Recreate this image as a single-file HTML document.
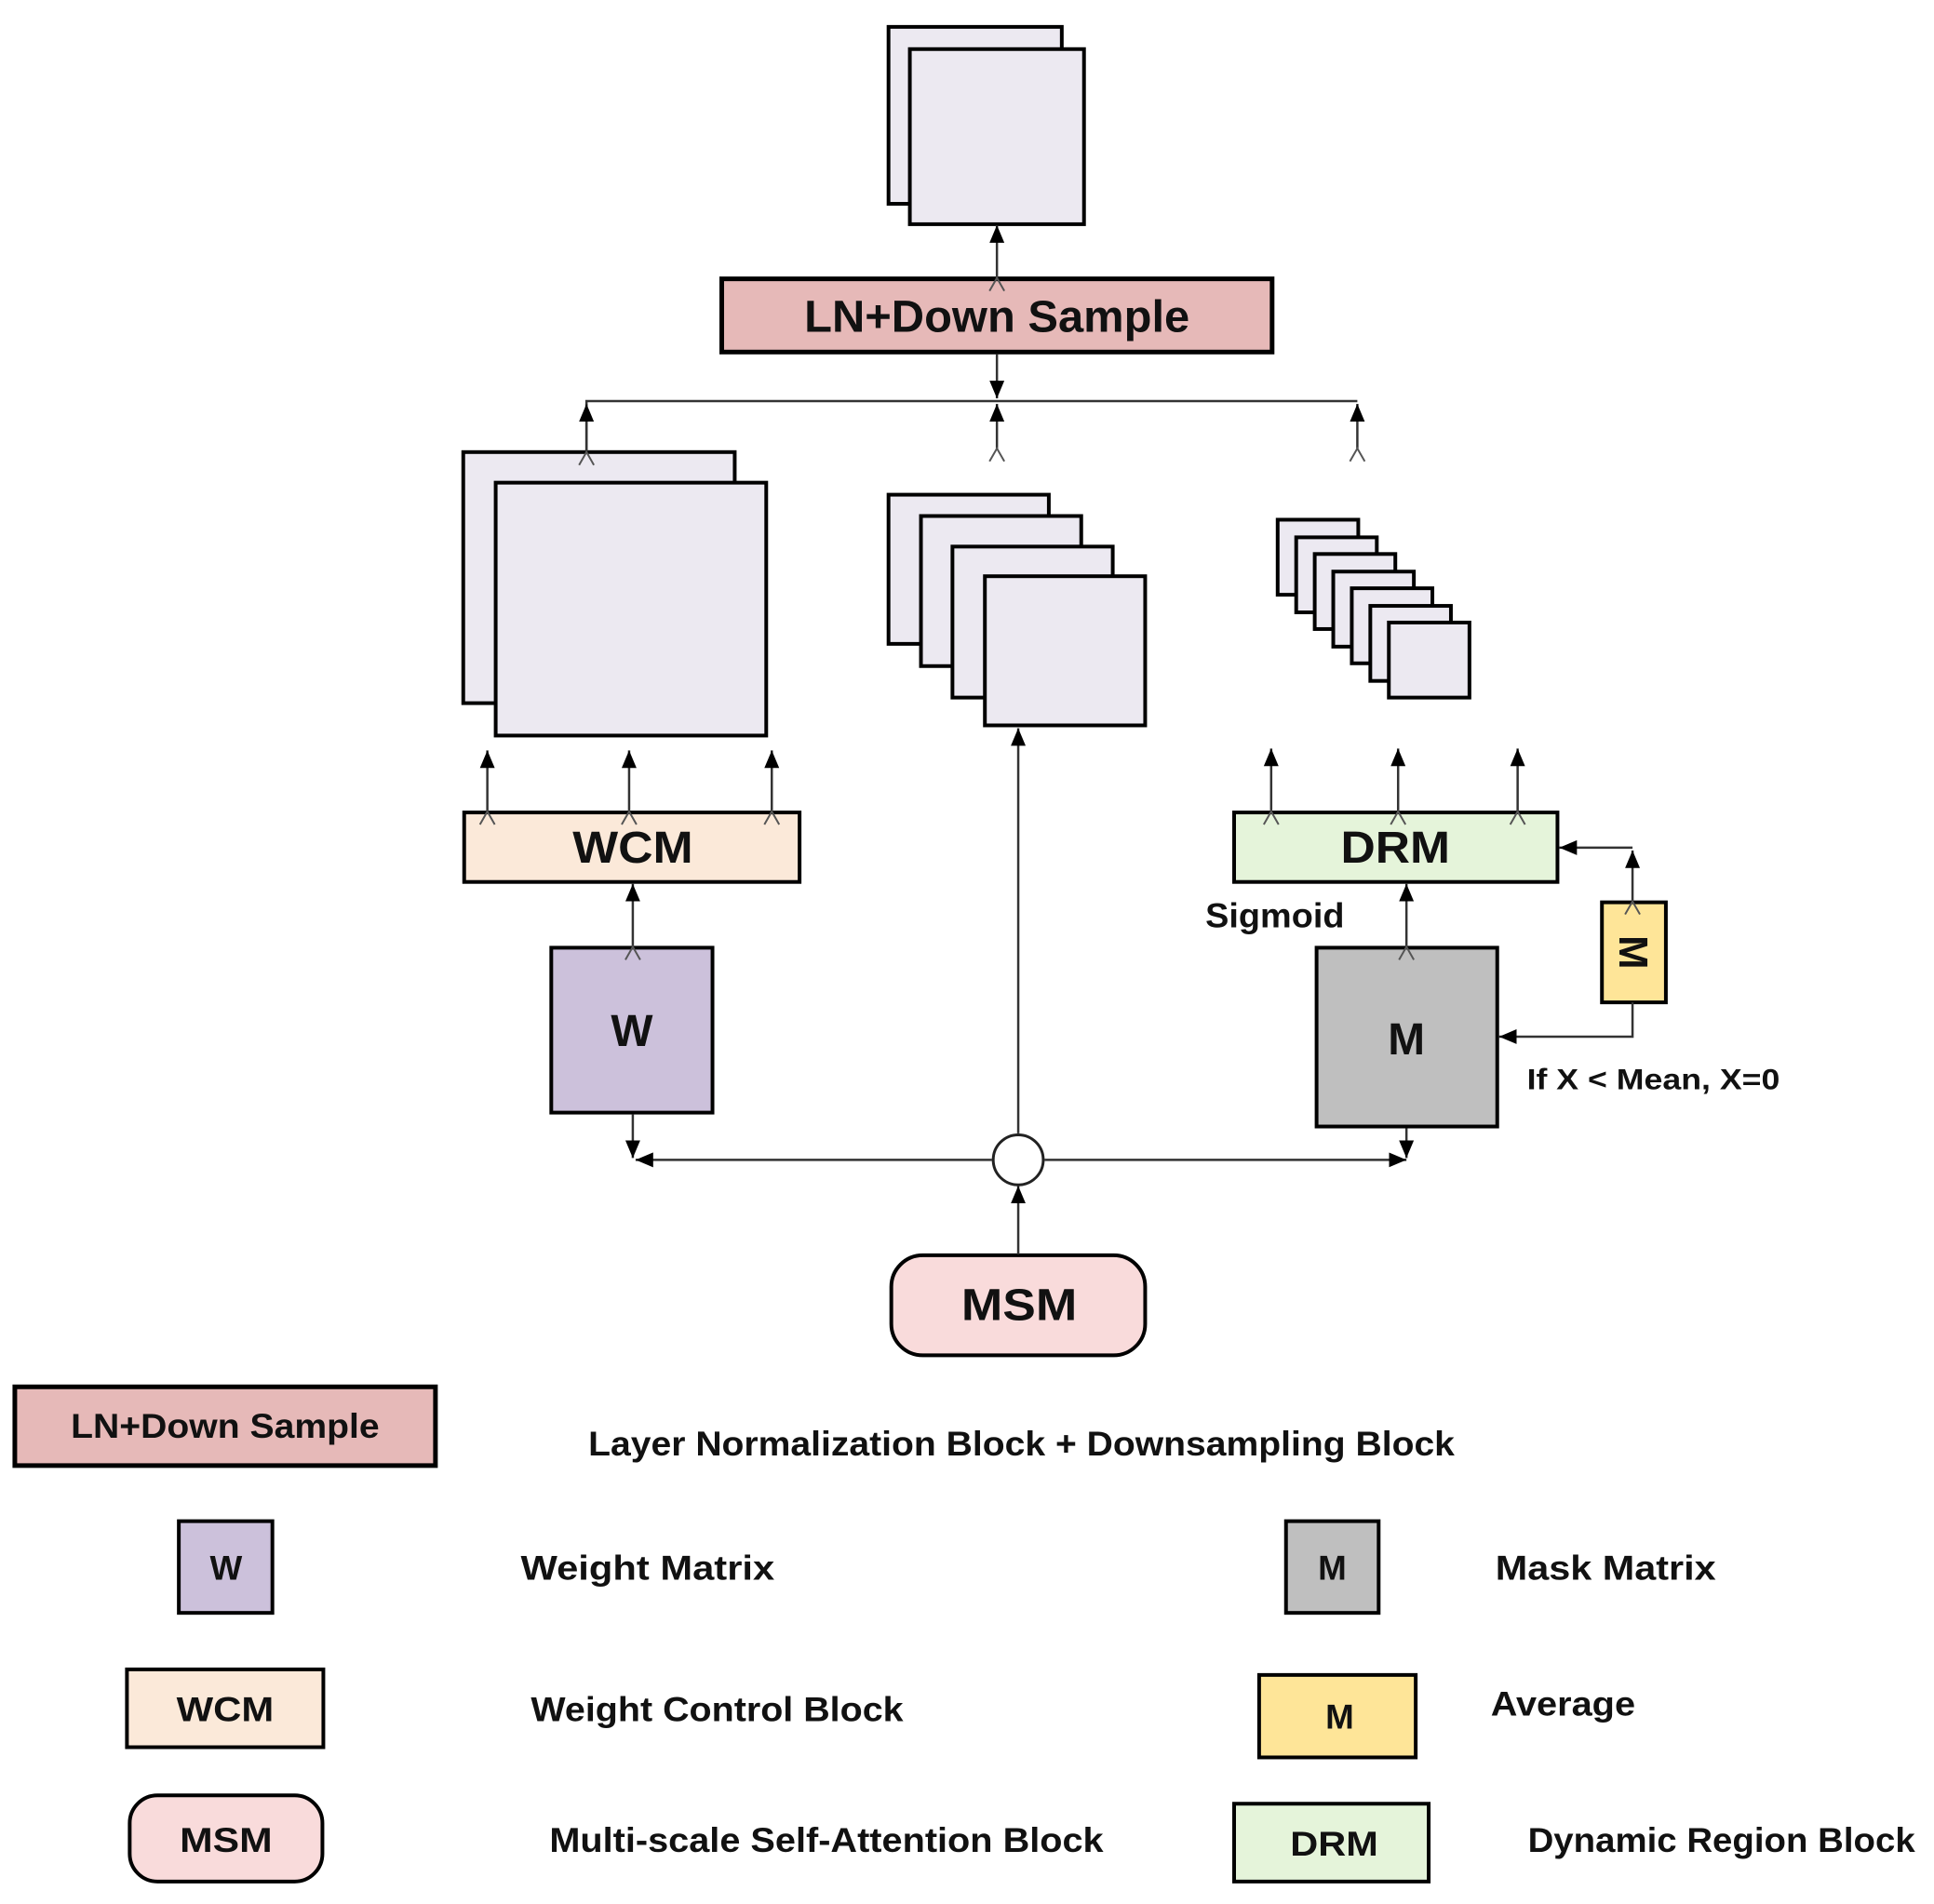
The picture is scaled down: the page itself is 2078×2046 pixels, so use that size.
<!DOCTYPE html>
<html><head><meta charset="utf-8"><style>
html,body{margin:0;padding:0;background:#fff;}
svg{display:block;}
text{font-family:"Liberation Sans",sans-serif;font-weight:bold;fill:#111;}
</style></head><body>
<svg width="2078" height="2046" viewBox="0 0 2078 2046" xmlns="http://www.w3.org/2000/svg">
<defs>
<marker id="fa" markerUnits="userSpaceOnUse" markerWidth="24" markerHeight="24" refX="19" refY="10" orient="auto"><path d="M0,2 L19,10 L0,18 Z" fill="#000"/></marker>
<marker id="oa" markerUnits="userSpaceOnUse" markerWidth="24" markerHeight="24" refX="16" refY="10" orient="auto"><path d="M2,2 L16,10 L2,18" fill="none" stroke="#555" stroke-width="2"/></marker>
</defs>
<g transform="scale(0.9955)">
<g stroke="#000" stroke-width="4">
<rect x="959" y="29" width="187" height="191" fill="#ece9f1"/>
<rect x="982" y="53" width="188" height="189" fill="#ece9f1"/>
<rect x="779" y="301" width="594" height="79" fill="#e6b9b8" stroke-width="5"/>
<rect x="500" y="488" width="293" height="271" fill="#ece9f1"/>
<rect x="535" y="521" width="292" height="273" fill="#ece9f1"/>
<rect x="959" y="534" width="173" height="161" fill="#ece9f1"/>
<rect x="994" y="557" width="173" height="162" fill="#ece9f1"/>
<rect x="1028" y="590" width="173" height="163" fill="#ece9f1"/>
<rect x="1063" y="622" width="173" height="161" fill="#ece9f1"/>
<rect x="1379" y="561" width="87" height="81" fill="#ece9f1"/>
<rect x="1399" y="580" width="87" height="81" fill="#ece9f1"/>
<rect x="1419" y="598" width="87" height="81" fill="#ece9f1"/>
<rect x="1439" y="617" width="87" height="81" fill="#ece9f1"/>
<rect x="1459" y="635" width="87" height="81" fill="#ece9f1"/>
<rect x="1479" y="654" width="87" height="81" fill="#ece9f1"/>
<rect x="1499" y="672" width="87" height="81" fill="#ece9f1"/>
<rect x="501" y="877" width="362" height="75" fill="#fbe9d9"/>
<rect x="595" y="1023" width="174" height="178" fill="#ccc1db"/>
<rect x="1332" y="877" width="349" height="75" fill="#e5f4da"/>
<rect x="1421" y="1023" width="195" height="193" fill="#bfbfbf"/>
<rect x="1729" y="974" width="69" height="108" fill="#fee598"/>
<rect x="962" y="1355" width="274" height="108" rx="34" fill="#f9dbdb"/>
<rect x="16" y="1497" width="454" height="85" fill="#e6b9b8" stroke-width="5"/>
<rect x="193" y="1642" width="101" height="99" fill="#ccc1db"/>
<rect x="1388" y="1642" width="100" height="99" fill="#bfbfbf"/>
<rect x="137" y="1802" width="212" height="84" fill="#fbe9d9"/>
<rect x="1359" y="1808" width="169" height="89" fill="#fee598"/>
<rect x="140" y="1938" width="208" height="93" rx="30" fill="#f9dbdb"/>
<rect x="1332" y="1947" width="210" height="84" fill="#e5f4da"/>
</g>
<g stroke="#333" stroke-width="2.5" fill="none">
<line x1="1076" y1="300" x2="1076" y2="243" marker-start="url(#oa)" marker-end="url(#fa)"/>
<line x1="1076" y1="382" x2="1076" y2="430" marker-end="url(#fa)"/>
<polyline points="633,489 633,433 1465,433"/>
<line x1="633" y1="488" x2="633" y2="436" marker-start="url(#oa)" marker-end="url(#fa)"/>
<line x1="1076" y1="484" x2="1076" y2="436" marker-start="url(#oa)" marker-end="url(#fa)"/>
<line x1="1465" y1="484" x2="1465" y2="436" marker-start="url(#oa)" marker-end="url(#fa)"/>
<line x1="526" y1="876" x2="526" y2="810" marker-start="url(#oa)" marker-end="url(#fa)"/>
<line x1="679" y1="876" x2="679" y2="810" marker-start="url(#oa)" marker-end="url(#fa)"/>
<line x1="833" y1="876" x2="833" y2="810" marker-start="url(#oa)" marker-end="url(#fa)"/>
<line x1="1372" y1="876" x2="1372" y2="808" marker-start="url(#oa)" marker-end="url(#fa)"/>
<line x1="1509" y1="876" x2="1509" y2="808" marker-start="url(#oa)" marker-end="url(#fa)"/>
<line x1="1638" y1="876" x2="1638" y2="808" marker-start="url(#oa)" marker-end="url(#fa)"/>
<line x1="683" y1="1022" x2="683" y2="954" marker-start="url(#oa)" marker-end="url(#fa)"/>
<line x1="1518" y1="1022" x2="1518" y2="954" marker-start="url(#oa)" marker-end="url(#fa)"/>
<line x1="683" y1="1203" x2="683" y2="1250" marker-end="url(#fa)"/>
<line x1="1518" y1="1218" x2="1518" y2="1250" marker-end="url(#fa)"/>
<line x1="1071" y1="1252" x2="686" y2="1252" marker-start="url(#oa)" marker-end="url(#fa)"/>
<line x1="1127" y1="1252" x2="1518" y2="1252" marker-start="url(#oa)" marker-end="url(#fa)"/>
<line x1="1099" y1="1224" x2="1099" y2="786" marker-start="url(#oa)" marker-end="url(#fa)"/>
<line x1="1099" y1="1354" x2="1099" y2="1280" marker-end="url(#fa)"/>
<polyline points="1762,915 1683,915" marker-end="url(#fa)"/>
<line x1="1762" y1="973" x2="1762" y2="918" marker-start="url(#oa)" marker-end="url(#fa)"/>
<polyline points="1762,1082 1762,1119 1618,1119" marker-end="url(#fa)"/>
</g>
<circle cx="1099" cy="1252" r="27" fill="#fff" stroke="#222" stroke-width="3"/>
<text x="1076" y="358" font-size="48" text-anchor="middle" textLength="416" lengthAdjust="spacingAndGlyphs">LN+Down Sample</text>
<text x="683" y="931" font-size="48" text-anchor="middle" textLength="130" lengthAdjust="spacingAndGlyphs">WCM</text>
<text x="682" y="1129" font-size="48" text-anchor="middle">W</text>
<text x="1506" y="931" font-size="48" text-anchor="middle" textLength="118" lengthAdjust="spacingAndGlyphs">DRM</text>
<text x="1518" y="1138" font-size="48" text-anchor="middle">M</text>
<text x="1301" y="1001" font-size="37" textLength="150" lengthAdjust="spacingAndGlyphs">Sigmoid</text>
<text x="1648" y="1176" font-size="32" textLength="273" lengthAdjust="spacingAndGlyphs">If X &lt; Mean, X=0</text>
<text transform="translate(1763,1028) rotate(90)" font-size="44" text-anchor="middle" dy="15">M</text>
<text x="1100" y="1425" font-size="48" text-anchor="middle" textLength="125" lengthAdjust="spacingAndGlyphs">MSM</text>
<g font-size="37">
<text x="243" y="1552" text-anchor="middle" textLength="333" lengthAdjust="spacingAndGlyphs">LN+Down Sample</text>
<text x="635" y="1571" textLength="935" lengthAdjust="spacingAndGlyphs">Layer Normalization Block + Downsampling Block</text>
<text x="244" y="1705" text-anchor="middle">W</text>
<text x="562" y="1705" textLength="274" lengthAdjust="spacingAndGlyphs">Weight Matrix</text>
<text x="1438" y="1705" text-anchor="middle">M</text>
<text x="1614" y="1705" textLength="238" lengthAdjust="spacingAndGlyphs">Mask Matrix</text>
<text x="243" y="1858" text-anchor="middle" textLength="105" lengthAdjust="spacingAndGlyphs">WCM</text>
<text x="573" y="1858" textLength="402" lengthAdjust="spacingAndGlyphs">Weight Control Block</text>
<text x="1446" y="1866" text-anchor="middle">M</text>
<text x="1609" y="1852" textLength="156" lengthAdjust="spacingAndGlyphs">Average</text>
<text x="244" y="1999" text-anchor="middle" textLength="100" lengthAdjust="spacingAndGlyphs">MSM</text>
<text x="593" y="1999" textLength="598" lengthAdjust="spacingAndGlyphs">Multi-scale Self-Attention Block</text>
<text x="1440" y="2003" text-anchor="middle" textLength="95" lengthAdjust="spacingAndGlyphs">DRM</text>
<text x="1649" y="1999" textLength="418" lengthAdjust="spacingAndGlyphs">Dynamic Region Block</text>
</g>
</g>
</svg>
</body></html>
